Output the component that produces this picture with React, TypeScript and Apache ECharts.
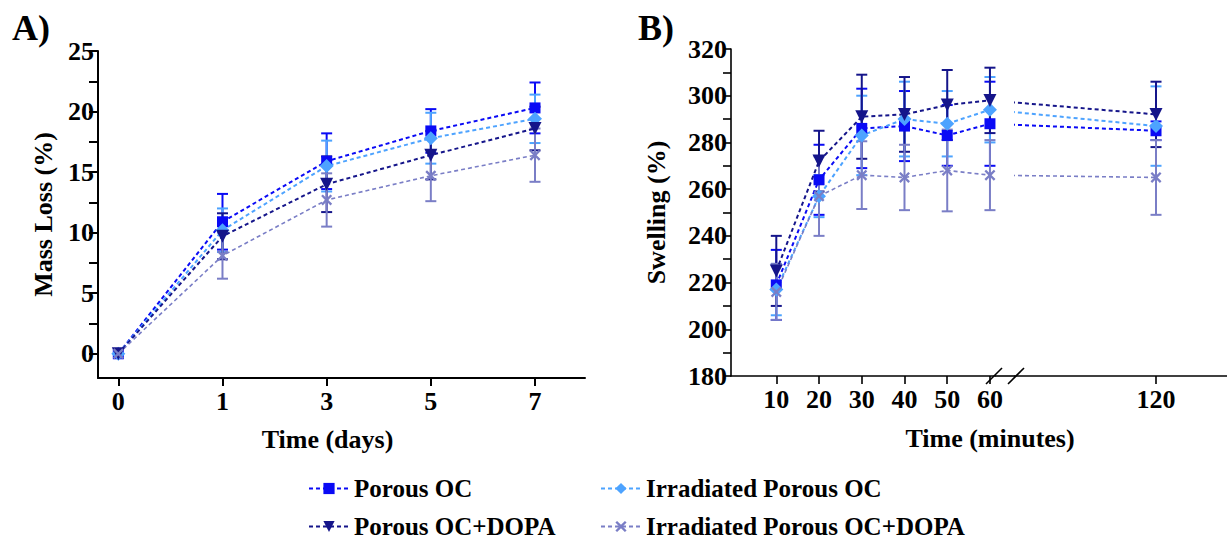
import React, { useEffect, useRef } from 'react';
import * as echarts from 'echarts';

const seriesNames = ['Porous OC', 'Irradiated Porous OC', 'Porous OC+DOPA', 'Irradiated Porous OC+DOPA'];
const seriesColors = ['#0a0af5', '#4da3ff', '#15158a', '#7a7ec6'];

// Panel A: mass loss (%) vs time (days)
const dayLabels = ['0', '1', '3', '5', '7'];
const massPorous = [0, 10.9, 15.9, 18.4, 20.3];
const massPorousSD = [0, 2.3, 2.3, 1.8, 2.1];
const massIrr = [0, 10.2, 15.5, 17.8, 19.4];
const massIrrSD = [0, 1.8, 2.1, 2.1, 2.0];
const massDopa = [0, 9.7, 14.0, 16.4, 18.6];
const massDopaSD = [0, 1.9, 2.3, 2.0, 1.8];
const massIrrDopa = [0, 8.1, 12.7, 14.7, 16.4];
const massIrrDopaSD = [0, 1.9, 2.2, 2.1, 2.2];
const massLabelTicks = [0, 5, 10, 15, 20, 25];
const massAllTicks = [0, 2.5, 5, 7.5, 10, 12.5, 15, 17.5, 20, 22.5, 25];

// Panel B: swelling (%) vs time (minutes)
const minutes = [10, 20, 30, 40, 50, 60, 120];
const swPorous = [219, 264, 286, 287, 283, 288, 285];
const swPorousSD = [15, 15, 17, 15, 13, 18, 4];
const swIrr = [217, 257, 283, 290, 288, 294, 287];
const swIrrSD = [11, 9, 17, 16, 14, 14, 17];
const swDopa = [225, 272, 291, 292, 296, 298, 292];
const swDopaSD = [15, 13, 18, 16, 15, 14, 14];
const swIrrDopa = [216, 257, 266, 265, 268, 266, 265];
const swIrrDopaSD = [12, 17, 14.5, 14, 17.5, 15, 16];
const swLabelTicks = [180, 200, 220, 240, 260, 280, 300, 320];
const swAllTicks = [180, 190, 200, 210, 220, 230, 240, 250, 260, 270, 280, 290, 300, 310, 320];

const massValues = [massPorous, massIrr, massDopa, massIrrDopa];
const massSDs = [massPorousSD, massIrrSD, massDopaSD, massIrrDopaSD];
const swValues = [swPorous, swIrr, swDopa, swIrrDopa];
const swSDs = [swPorousSD, swIrrSD, swDopaSD, swIrrDopaSD];

const crossPath = 'path://M0,1.5 L1.5,0 L5,3.5 L8.5,0 L10,1.5 L6.5,5 L10,8.5 L8.5,10 L5,6.5 L1.5,10 L0,8.5 L3.5,5 Z';
const symbols = ['rect', 'diamond', 'triangle', crossPath];
const symbolSizes = [11, 14, 13, 11];
const symbolRotates = [0, 0, 180, 0];
const lineWidths = [2, 2, 2, 1.6];

const FONT = '"Liberation Serif", "Times New Roman", serif';
const tickFont = { fontFamily: FONT, fontWeight: 'bold' as const, fontSize: 26, color: '#000' };
const nameFont = { fontFamily: FONT, fontWeight: 'bold' as const, fontSize: 26, color: '#000' };

function errorBarSeries(name: string, color: string, xi: number, yi: number, data: number[][]) {
  return {
    type: 'custom',
    name,
    xAxisIndex: xi,
    yAxisIndex: yi,
    z: 2,
    data,
    encode: { x: 0, y: 1 },
    silent: true,
    renderItem: (params: any, api: any) => {
      const x = api.value(0);
      const y = api.value(1);
      const e = api.value(2);
      if (!e) return { type: 'group', children: [] };
      const top = api.coord([x, y + e]);
      const bot = api.coord([x, y - e]);
      const hw = 5.5;
      const st = { stroke: color, lineWidth: 2 };
      return {
        type: 'group',
        children: [
          { type: 'line', shape: { x1: top[0], y1: top[1], x2: bot[0], y2: bot[1] }, style: st },
          { type: 'line', shape: { x1: top[0] - hw, y1: top[1], x2: top[0] + hw, y2: top[1] }, style: st },
          { type: 'line', shape: { x1: bot[0] - hw, y1: bot[1], x2: bot[0] + hw, y2: bot[1] }, style: st },
        ],
      };
    },
  };
}

function lineSeries(i: number, xi: number, yi: number, data: number[][]) {
  return {
    type: 'line',
    name: seriesNames[i],
    xAxisIndex: xi,
    yAxisIndex: yi,
    z: 3,
    data,
    symbol: symbols[i],
    symbolSize: symbolSizes[i],
    symbolRotate: symbolRotates[i],
    itemStyle: { color: seriesColors[i] },
    lineStyle: { color: seriesColors[i], width: lineWidths[i], type: [4, 3] },
    clip: true,
  };
}

export default function App() {
  const ref = useRef<HTMLDivElement>(null);
  useEffect(() => {
    document.body.style.margin = '0';
    const chart = echarts.init(ref.current!, null, { renderer: 'svg' });

    const lines: any[] = [];
    const bars: any[] = [];
    for (let i = 0; i < 4; i++) {
      // Panel A
      lines.push(lineSeries(i, 0, 0, massValues[i].map((v, k) => [k, v])));
      bars.push(errorBarSeries(seriesNames[i], seriesColors[i], 0, 0, massValues[i].map((v, k) => [k, v, massSDs[i][k]])));
      // Panel B left segment
      lines.push(lineSeries(i, 1, 1, minutes.slice(0, 6).map((m, k) => [m, swValues[i][k]])));
      bars.push(errorBarSeries(seriesNames[i], seriesColors[i], 1, 1, minutes.slice(0, 6).map((m, k) => [m, swValues[i][k], swSDs[i][k]])));
      // Panel B right segment (after break)
      lines.push(lineSeries(i, 2, 2, minutes.slice(5).map((m, k) => [m, swValues[i][k + 5]])));
      bars.push(errorBarSeries(seriesNames[i], seriesColors[i], 2, 2, minutes.slice(6).map((m, k) => [m, swValues[i][k + 6], swSDs[i][k + 6]])));
    }

    const axisLineA = { show: true, onZero: false, lineStyle: { color: '#000', width: 2 } };
    const axisLineB = { show: true, onZero: false, lineStyle: { color: '#000', width: 1.6 } };

    const legendCommon = {
      orient: 'horizontal',
      itemWidth: 40,
      itemHeight: 14,
      padding: 0,
      textStyle: { ...nameFont, fontSize: 25 },
      selectedMode: false,
    };
    const legendPos = [
      { left: 308, top: 476 },
      { left: 600, top: 476 },
      { left: 308, top: 514 },
      { left: 600, top: 514 },
    ];

    chart.setOption({
      animation: false,
      grid: [
        { left: 98, top: 51, width: 487, height: 327 },
        { left: 731, top: 49, width: 264, height: 327 },
        { left: 1015, top: 49, width: 212, height: 327 },
      ],
      xAxis: [
        {
          gridIndex: 0, type: 'value', min: -0.195, max: 4.48,
          axisLine: axisLineA,
          axisTick: { show: true, customValues: [0, 1, 2, 3, 4], length: 8, lineStyle: { color: '#000', width: 2 } },
          axisLabel: { customValues: [0, 1, 2, 3, 4], formatter: (v: number) => dayLabels[Math.round(v)], margin: 10, ...tickFont },
          splitLine: { show: false },
          name: 'Time (days)', nameLocation: 'middle', nameGap: 48,
          nameTextStyle: { ...nameFont, padding: [0, 28, 0, 0] },
        },
        {
          gridIndex: 1, type: 'value', min: -0.6, max: 61.18,
          axisLine: axisLineB,
          axisTick: { show: true, customValues: minutes.slice(0, 6), length: 8, lineStyle: { color: '#000', width: 1.6 } },
          axisLabel: { customValues: minutes.slice(0, 6), formatter: (v: number) => String(v), margin: 10, ...tickFont },
          splitLine: { show: false },
        },
        {
          gridIndex: 2, type: 'value', min: 69.03, max: 145.66,
          axisLine: axisLineB,
          axisTick: { show: true, customValues: minutes.slice(6), length: 8, lineStyle: { color: '#000', width: 1.6 } },
          axisLabel: { customValues: minutes.slice(6), formatter: (v: number) => String(v), margin: 10, ...tickFont },
          splitLine: { show: false },
        },
      ],
      yAxis: [
        {
          gridIndex: 0, type: 'value', min: -2, max: 25,
          axisLine: axisLineA,
          axisTick: { show: true, customValues: massAllTicks, length: 9, lineStyle: { color: '#000', width: 2 } },
          axisLabel: { customValues: massLabelTicks, margin: 4, ...tickFont },
          splitLine: { show: false },
          name: 'Mass Loss (%)', nameLocation: 'middle', nameGap: 42, nameRotate: 90, nameTextStyle: nameFont,
        },
        {
          gridIndex: 1, type: 'value', min: 180, max: 320,
          axisLine: axisLineB,
          axisTick: { show: true, customValues: swAllTicks, length: 8, lineStyle: { color: '#000', width: 1.6 } },
          axisLabel: { customValues: swLabelTicks, margin: 4, ...tickFont },
          splitLine: { show: false },
          name: 'Swelling (%)', nameLocation: 'middle', nameGap: 62, nameRotate: 90, nameTextStyle: nameFont,
        },
        {
          gridIndex: 2, type: 'value', min: 180, max: 320, show: false,
          splitLine: { show: false },
        },
      ],
      legend: [0, 1, 2, 3].map((k) => ({ ...legendCommon, ...legendPos[k], data: [seriesNames[k]] })),
      graphic: [
        { type: 'text', left: 12, top: 10, style: { text: 'A)', font: `bold 36px ${FONT}`, fill: '#000' } },
        { type: 'text', left: 638, top: 10, style: { text: 'B)', font: `bold 36px ${FONT}`, fill: '#000' } },
        { type: 'text', x: 990, y: 438, style: { text: 'Time (minutes)', font: `bold 26px ${FONT}`, fill: '#000', align: 'center', verticalAlign: 'middle' } },
        { type: 'line', shape: { x1: 995, y1: 376, x2: 1015, y2: 376 }, style: { stroke: '#000', lineWidth: 1.6 } },
        { type: 'line', shape: { x1: 986, y1: 384, x2: 1002, y2: 368 }, style: { stroke: '#000', lineWidth: 1.6 } },
        { type: 'line', shape: { x1: 1008, y1: 384, x2: 1024, y2: 368 }, style: { stroke: '#000', lineWidth: 1.6 } },
      ],
      series: [...lines, ...bars],
    });
    return () => chart.dispose();
  }, []);
  return <div ref={ref} style={{ width: 1227, height: 542 }} />;
}
